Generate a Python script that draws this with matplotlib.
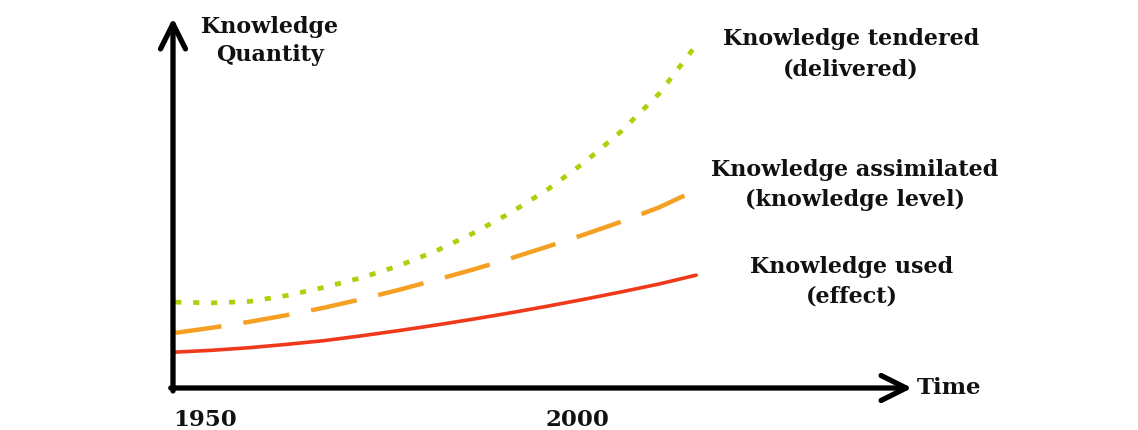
import matplotlib
matplotlib.use("Agg")
import matplotlib.pyplot as plt

years = [1946, 1951, 1956, 1961, 1966, 1971, 1976, 1981, 1986, 1991, 1996, 2001, 2006, 2011, 2016]
used = [9.7, 10.2, 10.9, 11.8, 12.8, 14.1, 15.5, 17.0, 18.6, 20.3, 22.1, 24.0, 26.0, 28.1, 30.5]
assimilated = [14.9, 16.3, 17.9, 19.7, 21.7, 24.0, 26.5, 29.2, 32.0, 35.0, 38.2, 41.5, 45.0, 48.8, 53.5]
tendered = [23.2, 23.0, 23.4, 25.0, 27.2, 29.8, 33.0, 37.0, 41.8, 47.3, 53.6, 61.0, 69.5, 79.5, 92.7]
tick_years = [1950, 2000]
tick_labels = ["1950", "2000"]

FONT = ["DejaVu Serif"]
W, H = 1138, 430
fig = plt.figure(figsize=(W / 100, H / 100), dpi=100)
ax = fig.add_axes([173 / W, 1 - 388 / H, (912 - 173) / W, (388 - 18) / H])
ax.set_xlim(1945.7, 2045.0)
ax.set_ylim(0, 100)
for s in ax.spines.values():
    s.set_visible(False)
ax.set_yticks([])
ax.set_xticks(tick_years)
ax.set_xticklabels(tick_labels, fontfamily=FONT, fontweight="bold", fontsize=16.5, color="#111111")
ax.tick_params(axis="x", length=0, pad=15)

ax.plot(years, used, color="#f0391a", lw=2.6, solid_capstyle="round")
ax.plot(years, assimilated, color="#f5a023", lw=3.2, linestyle=(0, (10.5, 5.0)))
ax.plot(years, tendered, color="#a9d20a", lw=3.4, linestyle=(0, (1.3, 2.5)))

arrow = dict(arrowstyle="->,head_length=0.9,head_width=0.45", lw=3.8, color="black",
             shrinkA=0, shrinkB=0, mutation_scale=20)
ax.annotate("", xy=(0, 1), xytext=(0, -0.008), xycoords="axes fraction",
            textcoords="axes fraction", arrowprops=arrow, annotation_clip=False)
ax.annotate("", xy=(1, 0), xytext=(-0.003, 0), xycoords="axes fraction",
            textcoords="axes fraction", arrowprops=arrow, annotation_clip=False)

def ftxt(x, y, s, ha="center", size=16, ls=1.5):
    fig.text(x / W, 1 - y / H, s, ha=ha, va="center", fontfamily=FONT,
             fontweight="bold", fontsize=size, linespacing=ls, color="#111111")

ftxt(270, 41, "Knowledge\nQuantity", ls=1.35)
ftxt(851, 54, "Knowledge tendered\n(delivered)")
ftxt(855, 185, "Knowledge assimilated\n(knowledge level)", ls=1.45)
ftxt(852, 282, "Knowledge used\n(effect)", ls=1.45)
ftxt(917, 388, "Time", ha="left", size=16.5)

fig.savefig("out.png", dpi=100, facecolor="white")
